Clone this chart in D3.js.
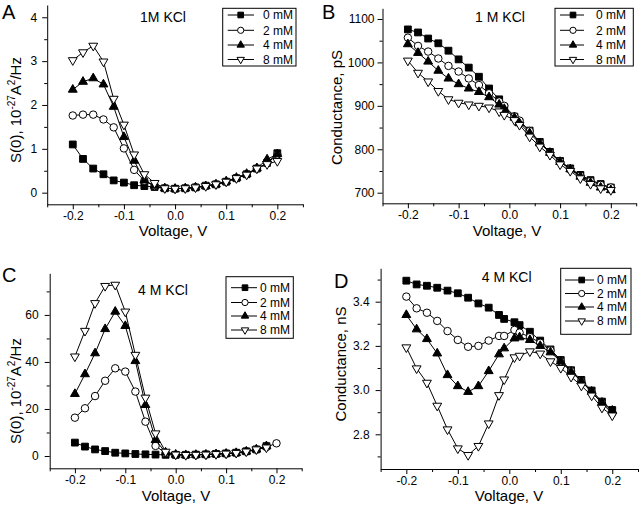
<!DOCTYPE html>
<html>
<head>
<meta charset="utf-8">
<script src="https://cdn.jsdelivr.net/npm/d3@7/dist/d3.min.js"></script>
<style>
  html, body { margin: 0; padding: 0; background: #fff; }
  svg { display: block; }
  text { font-family: "Liberation Sans", Arial, sans-serif; fill: #000; }
</style>
</head>
<body>
<svg id="chart" width="640" height="507"></svg>
<script>
// ---------------- DATA ----------------
const seriesNames = ["0 mM", "2 mM", "4 mM", "8 mM"];
const xTicks = [-0.2, -0.1, 0, 0.1, 0.2];
const xMinorTicks = [-0.25, -0.15, -0.05, 0.05, 0.15, 0.25];

// Panels A and C voltage grid
const voltageAC = [-0.2,-0.18,-0.16,-0.14,-0.12,-0.1,-0.08,-0.06,-0.04,-0.02,0,0.02,0.04,0.06,0.08,0.1,0.12,0.14,0.16,0.18,0.2];
// Panels B and D voltage grid
const voltageBD = [-0.2,-0.18,-0.16,-0.14,-0.12,-0.1,-0.08,-0.06,-0.04,-0.02,-0.01,0.01,0.02,0.04,0.06,0.08,0.1,0.12,0.14,0.16,0.18,0.2];

// Panel A: S(0), 1M KCl
const a0mM = [1.10,0.77,0.55,0.42,0.28,0.23,0.17,0.15,0.13,0.10,0.09,0.10,0.12,0.16,0.19,0.25,0.33,0.42,0.55,0.68,0.90];
const a2mM = [1.76,1.78,1.78,1.67,1.49,1.01,0.52,0.27,0.15,0.10,0.09,0.10,0.12,0.15,0.19,0.25,0.33,0.42,0.55,0.67,0.87];
const a4mM = [2.35,2.53,2.61,2.47,1.96,1.27,0.73,0.28,0.16,0.10,0.09,0.10,0.12,0.15,0.19,0.26,0.34,0.43,0.56,0.76,0.88];
const a8mM = [3.02,3.20,3.35,2.99,2.14,1.55,0.87,0.42,0.22,0.10,0.09,0.10,0.12,0.15,0.19,0.25,0.33,0.41,0.55,0.65,0.72];
const aYTicks = [0, 1, 2, 3, 4];
const aYMinor = [0.5, 1.5, 2.5, 3.5];

// Panel B: Conductance pS, 1 M KCl
const b0mM = [1076,1069,1055,1044,1027,1007,988,967,940,915,897,875,863,843,817,794,773,756,741,729,720,712];
const b2mM = [1057,1038,1025,1009,992,979,963,948,929,910,900,876,866,842,815,792,772,754,739,727,718,712];
const b4mM = [1042,1022,1002,981,963,950,940,932,920,903,893,873,860,837,814,792,771,754,737,723,712,706];
const b8mM = [1004,976,956,934,915,907,903,900,896,887,879,867,856,829,806,787,765,750,733,720,710,706];
const bYTicks = [700, 800, 900, 1000, 1100];
const bYMinor = [750, 850, 950, 1050];

// Panel C: S(0), 4 M KCl
const c0mM = [5.7,4.0,2.8,2.1,1.4,1.1,0.85,0.7,0.6,0.5,0.5,0.5,0.6,0.7,0.9,1.1,1.4,2.0,2.8,4.2,null];
const c2mM = [16.3,20.3,25.5,32.0,37.3,35.9,27.4,14.6,4.3,1.2,0.5,0.4,0.5,0.6,0.8,1.0,1.3,1.9,2.7,3.8,5.4];
const c4mM = [26.4,34.8,43.7,54.0,61.4,55.3,40.4,21.7,6.8,1.5,0.6,0.4,0.5,0.6,0.8,1.0,1.3,1.9,2.8,4.2,null];
const c8mM = [42.3,53.2,65.0,72.3,72.8,61.4,43.0,24.8,9.6,1.8,0.6,0.4,0.5,0.6,0.8,1.0,1.3,1.9,2.8,3.6,null];
const cYTicks = [0, 20, 40, 60];
const cYMinor = [10, 30, 50, 70];

// Panel D: Conductance nS, 4 M KCl
const d0mM = [3.495,3.478,3.472,3.463,3.45,3.438,3.418,3.392,3.373,3.34,3.322,3.307,3.294,3.264,3.224,3.184,3.136,3.09,3.046,2.998,2.948,2.91];
const d2mM = [3.423,3.37,3.35,3.313,3.267,3.227,3.196,3.2,3.224,3.245,3.245,3.272,3.26,3.24,3.214,3.18,3.13,3.086,3.04,2.99,2.94,2.895];
const d4mM = [3.34,3.275,3.231,3.166,3.068,3.018,2.992,3.018,3.086,3.162,3.189,3.234,3.239,3.227,3.2,3.171,3.13,3.083,3.04,2.993,2.943,2.907];
const d8mM = [3.193,3.098,3.033,2.929,2.822,2.736,2.706,2.747,2.849,2.977,3.048,3.148,3.155,3.175,3.165,3.13,3.1,3.06,3.02,2.975,2.92,2.885];
const dYTicks = [2.8, 3.0, 3.2, 3.4];
const dYMinor = [2.7, 2.9, 3.1, 3.3, 3.5];

// ---------------- LAYOUT ----------------
const panels = [
  { letter: "A", lx: 2, ly: 19, title: "1M KCl", tx: 163, ty: 22,
    x0: 47.2, x1: 302.9, yDom: [-0.265, 4.28], yr: [204.3, 5],
    volts: voltageAC, series: [a0mM, a2mM, a4mM, a8mM],
    yTicks: aYTicks, yMinor: aYMinor, yFmt: d => String(d), yPad: 5,
    yTitle: "s", ytx: 21, yty: 110, xtBase: 236, xtx: 173,
    legend: { x: 222.7, y: 8.3, w: 73.3, h: 57.7, rows: [15, 30.3, 45, 59.5], l0: 227.7, l1: 254, m: 240.7, t: 263 } },
  { letter: "B", lx: 322, ly: 19, title: "1 M KCl", tx: 500, ty: 22,
    x0: 382.5, x1: 636.2, yDom: [675.6, 1124.6], yr: [203.3, 8.3],
    volts: voltageBD, series: [b0mM, b2mM, b4mM, b8mM],
    yTicks: bYTicks, yMinor: bYMinor, yFmt: d => String(d), yPad: 3,
    yTitle: "Conductance, pS", ytx: 342, yty: 107.5, xtBase: 236, xtx: 507,
    legend: { x: 555, y: 8.3, w: 78.3, h: 57.7, rows: [15, 30.3, 45, 59.5], l0: 560, l1: 584, m: 573, t: 596 } },
  { letter: "C", lx: 2, ly: 281.5, title: "4 M KCl", tx: 163, ty: 295,
    x0: 49.7, x1: 301.7, yDom: [-5.23, 77.7], yr: [468.3, 273.3],
    volts: voltageAC, series: [c0mM, c2mM, c4mM, c8mM],
    yTicks: cYTicks, yMinor: cYMinor, yFmt: d => String(d), yPad: 6,
    yTitle: "s", ytx: 21, yty: 391, xtBase: 501, xtx: 176,
    legend: { x: 226, y: 276.7, w: 67.3, h: 61.6, rows: [287.7, 302.5, 316, 330], l0: 231, l1: 257, m: 245, t: 260 } },
  { letter: "D", lx: 334, ly: 288, title: "4 M KCl", tx: 506.7, ty: 282,
    x0: 380.6, x1: 638, yDom: [2.643, 3.551], yr: [469, 268.3],
    volts: voltageBD, series: [d0mM, d2mM, d4mM, d8mM],
    yTicks: dYTicks, yMinor: dYMinor, yFmt: d => d.toFixed(1), yPad: 6,
    yTitle: "Conductance, nS", ytx: 346, yty: 364, xtBase: 501, xtx: 509,
    legend: { x: 560.7, y: 268.3, w: 70.3, h: 66, rows: [280, 293.5, 307, 321], l0: 565, l1: 594, m: 581.7, t: 597 } }
];

// ---------------- DRAW ----------------
const svg = d3.select("#chart");

const markerDefs = [
  { type: d3.symbolSquare, size: 46, fill: "#000", rot: 0 },
  { type: d3.symbolCircle, size: 44, fill: "#fff", rot: 0 },
  { type: d3.symbolTriangle, size: 34, fill: "#000", rot: 0 },
  { type: d3.symbolTriangle, size: 34, fill: "#fff", rot: 180 }
];

function drawMarker(g, i, cx, cy, scale) {
  const md = markerDefs[i];
  g.append("path")
    .attr("d", d3.symbol().type(md.type).size(md.size * (scale || 1))())
    .attr("transform", `translate(${cx},${cy}) rotate(${md.rot})`)
    .attr("fill", md.fill)
    .attr("stroke", "#000")
    .attr("stroke-width", 1);
}

panels.forEach(p => {
  const g = svg.append("g");
  const x = d3.scaleLinear().domain([-0.25, 0.25]).range([p.x0, p.x1]);
  const y = d3.scaleLinear().domain(p.yDom).range(p.yr);
  const yBase = p.yr[0];

  g.append("g").attr("transform", `translate(0,${yBase})`)
    .call(d3.axisBottom(x).tickValues(xTicks).tickFormat(d => d.toFixed(1))
      .tickSize(5).tickSizeOuter(0).tickPadding(2.5));
  g.append("g").attr("transform", `translate(0,${yBase})`)
    .call(d3.axisBottom(x).tickValues(xMinorTicks).tickFormat("").tickSize(3).tickSizeOuter(0))
    .select(".domain").remove();

  g.append("g").attr("transform", `translate(${p.x0},0)`)
    .call(d3.axisLeft(y).tickValues(p.yTicks).tickFormat(p.yFmt)
      .tickSize(5).tickSizeOuter(0).tickPadding(p.yPad));
  g.append("g").attr("transform", `translate(${p.x0},0)`)
    .call(d3.axisLeft(y).tickValues(p.yMinor).tickFormat("").tickSize(3).tickSizeOuter(0))
    .select(".domain").remove();

  g.selectAll(".tick text").attr("font-size", 12).attr("font-family", '"Liberation Sans", Arial, sans-serif').attr("fill", "#000");
  g.selectAll(".domain, .tick line").attr("stroke", "#000").attr("stroke-width", 1);

  g.append("text").attr("x", p.lx).attr("y", p.ly).attr("font-size", 20).text(p.letter);
  g.append("text").attr("x", p.tx).attr("y", p.ty).attr("text-anchor", "middle")
    .attr("font-size", 14).text(p.title);

  g.append("text").attr("x", p.xtx).attr("y", p.xtBase).attr("text-anchor", "middle")
    .attr("font-size", 15).text("Voltage, V");

  const yt = g.append("text")
    .attr("transform", `translate(${p.ytx},${p.yty}) rotate(-90)`)
    .attr("text-anchor", "middle").attr("font-size", 15);
  if (p.yTitle === "s") {
    yt.append("tspan").text("S(0), 10");
    yt.append("tspan").attr("dy", -6).attr("font-size", 10).text("-27");
    yt.append("tspan").attr("dy", 6).text("A");
    yt.append("tspan").attr("dy", -6).attr("font-size", 10).text("2");
    yt.append("tspan").attr("dy", 6).text("/Hz");
  } else {
    yt.text(p.yTitle);
  }

  p.series.forEach((vals, i) => {
    const pts = p.volts.map((v, k) => [v, vals[k]]).filter(d => d[1] != null);
    const line = d3.line().x(d => x(d[0])).y(d => y(d[1]));
    g.append("path").datum(pts).attr("d", line)
      .attr("fill", "none").attr("stroke", "#000").attr("stroke-width", 1);
    const mg = g.append("g");
    pts.forEach(d => drawMarker(mg, i, x(d[0]), y(d[1])));
  });

  const L = p.legend;
  const lg = g.append("g");
  lg.append("rect").attr("x", L.x).attr("y", L.y).attr("width", L.w).attr("height", L.h)
    .attr("fill", "#fff").attr("stroke", "#000").attr("stroke-width", 1);
  seriesNames.forEach((name, i) => {
    const ry = L.rows[i];
    lg.append("line").attr("x1", L.l0).attr("x2", L.l1).attr("y1", ry).attr("y2", ry)
      .attr("stroke", "#000").attr("stroke-width", 1);
    drawMarker(lg, i, L.m, ry, 0.7);
    lg.append("text").attr("x", L.t).attr("y", ry).attr("dy", "0.36em")
      .attr("font-size", 12).text(name);
  });
});
</script>
</body>
</html>
